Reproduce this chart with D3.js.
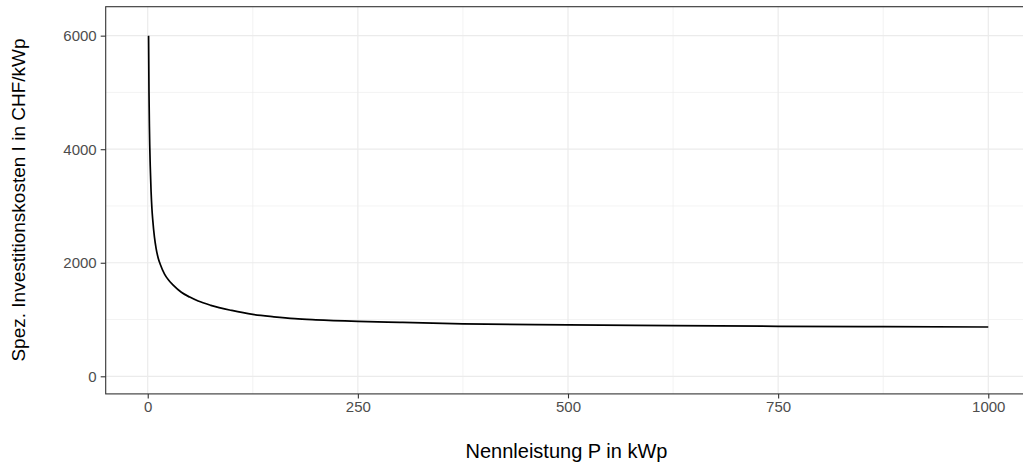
<!DOCTYPE html>
<html>
<head>
<meta charset="utf-8">
<script src="https://cdn.jsdelivr.net/npm/d3@7"></script>
<style>
  html, body { margin: 0; padding: 0; background: #fff; overflow: hidden; }
  svg { display: block; font-family: "Liberation Sans", Arial, sans-serif; }
</style>
</head>
<body>
<svg id="chart" width="1023" height="462"></svg>
<script>
// Data
const leistung = [1, 1.5, 2, 3, 4, 5, 6, 8, 10, 12.5, 15, 20, 25, 30, 40, 50, 60, 75, 100, 125, 150, 175, 200, 250, 300, 375, 500, 625, 750, 875, 1000];
const kosten   = [6000, 5000, 4400, 3700, 3250, 2950, 2750, 2450, 2250, 2080, 1970, 1800, 1690, 1610, 1480, 1395, 1325, 1250, 1160, 1090, 1048, 1015, 995, 968, 950, 925, 905, 891, 881, 874, 868];
const xMajorTicks = [0, 250, 500, 750, 1000];
const xMinorTicks = [125, 375, 625, 875];
const yMajorTicks = [0, 2000, 4000, 6000];
const yMinorTicks = [1000, 3000, 5000];
const xTitle = "Nennleistung P in kWp";
const yTitle = "Spez. Investitionskosten I in CHF/kWp";

const panel = { left: 105.7, top: 6.7, right: 1030.3, bottom: 393.9 };
const svg = d3.select("#chart");

const x = d3.scaleLinear().domain([-50, 1050]).range([panel.left, panel.right]);
const y = d3.scaleLinear().domain([-310, 6510]).range([panel.bottom, panel.top]);

const grid = svg.append("g");
// minor grid
grid.selectAll(".xmin").data(xMinorTicks).enter().append("line")
  .attr("x1", d => x(d)).attr("x2", d => x(d))
  .attr("y1", panel.top).attr("y2", panel.bottom)
  .attr("stroke", "#ebebeb").attr("stroke-width", 0.6);
grid.selectAll(".ymin").data(yMinorTicks).enter().append("line")
  .attr("x1", panel.left).attr("x2", panel.right)
  .attr("y1", d => y(d)).attr("y2", d => y(d))
  .attr("stroke", "#ebebeb").attr("stroke-width", 0.6);
// major grid
grid.selectAll(".xmaj").data(xMajorTicks).enter().append("line")
  .attr("x1", d => x(d)).attr("x2", d => x(d))
  .attr("y1", panel.top).attr("y2", panel.bottom)
  .attr("stroke", "#ebebeb").attr("stroke-width", 1.2);
grid.selectAll(".ymaj").data(yMajorTicks).enter().append("line")
  .attr("x1", panel.left).attr("x2", panel.right)
  .attr("y1", d => y(d)).attr("y2", d => y(d))
  .attr("stroke", "#ebebeb").attr("stroke-width", 1.2);

// curve
const pts = leistung.map((p, i) => [p, kosten[i]]);
svg.append("path")
  .datum(pts)
  .attr("fill", "none")
  .attr("stroke", "#000")
  .attr("stroke-width", 1.7)
  .attr("stroke-linejoin", "round")
  .attr("d", d3.line().x(d => x(d[0])).y(d => y(d[1])).curve(d3.curveMonotoneX));

// panel border
svg.append("rect")
  .attr("x", panel.left).attr("y", panel.top)
  .attr("width", panel.right - panel.left).attr("height", panel.bottom - panel.top)
  .attr("fill", "none").attr("stroke", "#333").attr("stroke-width", 1.1);

// axes
const xAxis = d3.axisBottom(x).tickValues(xMajorTicks).tickSize(4.5).tickPadding(3).tickFormat(d3.format("d"));
const gx = svg.append("g").attr("transform", `translate(0,${panel.bottom})`).call(xAxis);
gx.select(".domain").remove();
gx.selectAll(".tick line").attr("stroke", "#333").attr("stroke-width", 1.1);
gx.selectAll(".tick text").attr("fill", "#4d4d4d").style("font-size", "15px")
  .style("font-family", "'Liberation Sans', Arial, sans-serif");

const yAxis = d3.axisLeft(y).tickValues(yMajorTicks).tickSize(5).tickPadding(4).tickFormat(d3.format("d"));
const gy = svg.append("g").attr("transform", `translate(${panel.left},0)`).call(yAxis);
gy.select(".domain").remove();
gy.selectAll(".tick line").attr("stroke", "#333").attr("stroke-width", 1.1);
gy.selectAll(".tick text").attr("fill", "#4d4d4d").style("font-size", "15px")
  .style("font-family", "'Liberation Sans', Arial, sans-serif");

// titles
svg.append("text")
  .attr("x", 566.5).attr("y", 457.5)
  .attr("text-anchor", "middle")
  .style("font-size", "20px").attr("fill", "#000")
  .text(xTitle);
svg.append("text")
  .attr("transform", "translate(25,200) rotate(-90)")
  .attr("text-anchor", "middle")
  .style("font-size", "19px").attr("fill", "#000")
  .text(yTitle);
</script>
</body>
</html>
